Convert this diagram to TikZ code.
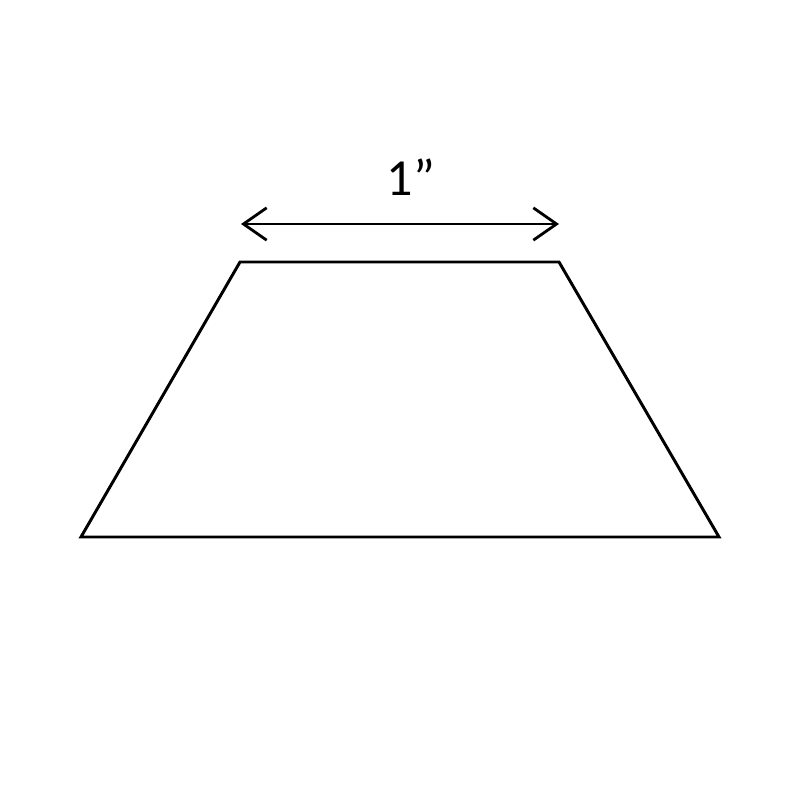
\documentclass[tikz,border=0pt]{standalone}
\usepackage{fontspec}
\setmainfont{Carlito}
\usetikzlibrary{arrows.meta}

\begin{document}
\begin{tikzpicture}[x=0.025cm, y=-0.025cm,
	edge/.style={line width=2.1pt, line join=miter},
	dim/.style={line width=1.1pt, {Straight Barb[length=16.5pt,width=23pt,line width=2pt]}-{Straight Barb[length=16.5pt,width=23pt,line width=2pt]}}]
	\useasboundingbox (0, 0) rectangle (800, 800);
	% Corners of the shape
	\coordinate (tl) at (240, 262);
	\coordinate (tr) at (559, 262);
	\coordinate (br) at (719, 537);
	\coordinate (bl) at (81, 537);
	\draw[edge] (tl) -- (tr) -- (br) -- (bl) -- cycle;
	% Width of the top side
	\coordinate (dl) at (241, 224);
	\coordinate (dr) at (559, 224);
	\draw[dim] (dl) -- (dr);
	\node[anchor=base, font=\fontsize{37pt}{40pt}\selectfont, inner sep=0pt] (len) at (411, 196) {1”};
\end{tikzpicture}
\end{document}
